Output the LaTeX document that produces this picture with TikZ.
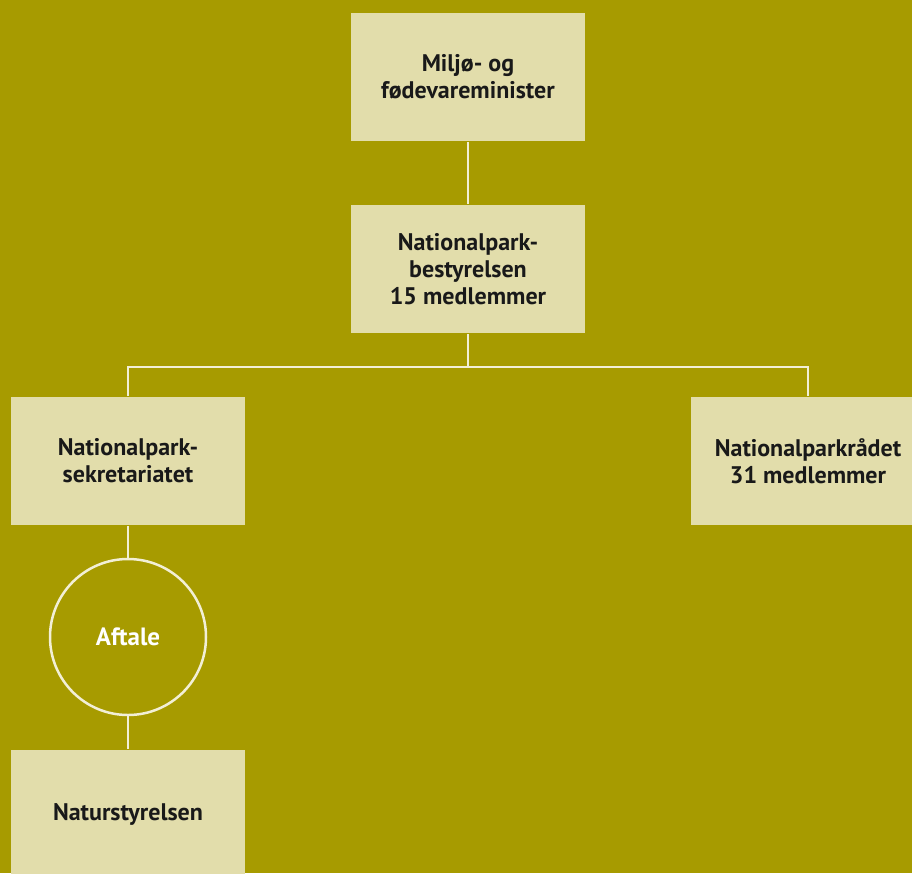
\documentclass[tikz,border=0pt]{standalone}
\usepackage{fontspec}
\setmainfont{PT Sans}

\definecolor{oliven}{HTML}{A79B00}
\definecolor{sand}{HTML}{E2DDAB}
\definecolor{streg}{HTML}{F2EFD6}

\begin{document}
\begin{tikzpicture}[x=1pt,y=1pt,node distance=192pt,
  line width=2pt,
  main node/.style={rectangle,fill=sand,draw=none,text=black!90,
    font=\fontsize{24}{27}\selectfont\bfseries,align=center,
    minimum height=128pt,minimum width=234pt,inner sep=0pt},
  aftale node/.style={circle,draw=streg,line width=2.5pt,minimum size=156pt,
    text=white,font=\fontsize{25}{27}\selectfont\bfseries}]

  \fill[oliven] (0,0) rectangle (912,-873);
  \useasboundingbox (0,0) rectangle (912,-873);

  \node[main node] (min) at (468,-77) {Miljø- og\\fødevareminister};
  \node[main node] (bes) [below of=min] {Nationalpark-\\bestyrelsen\\15 medlemmer};
  \node[main node] (sek) at (128,-461) {Nationalpark-\\sekretariatet};
  \node[main node] (rad) [node distance=680pt, right of=sek] {Nationalparkrådet\\31 medlemmer};
  \node[aftale node] (aft) [node distance=176pt, below of=sek] {Aftale};
  \node[main node] (nat) [node distance=177pt, below of=aft] {Naturstyrelsen};

  \coordinate (split) at ([yshift=-33pt]bes.south);

  \path[draw=streg]
  (min) -- (bes)
  (bes) -- (split)
  (sek) |- (split) -| (rad)
  (sek) -- (aft)
  (aft) -- (nat)
  ;

\end{tikzpicture}
\end{document}
